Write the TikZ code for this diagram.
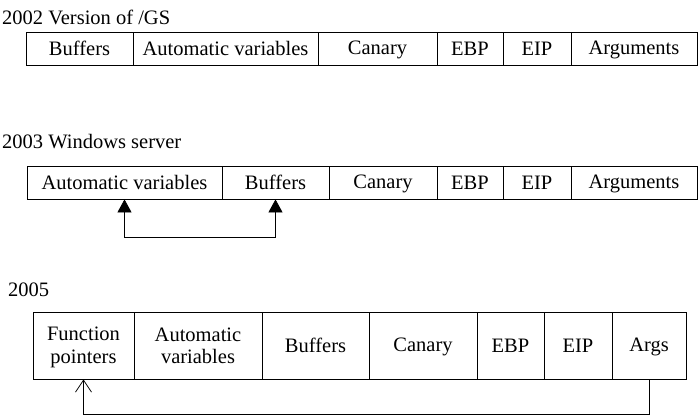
\documentclass[tikz,border=0pt]{standalone}
\usepackage{fontspec}
\setmainfont{Liberation Serif}
\usetikzlibrary{arrows.meta}
\newcommand\cellstrut{\rule[-3pt]{0pt}{20pt}}

\begin{document}
\begin{tikzpicture}[x=1pt, y=-1pt,
    cell/.style={draw, line width=0.8pt, inner sep=0pt, align=center,
        font=\fontsize{20.5}{22.5}\selectfont},
    rowlabel/.style={anchor=west, inner sep=0pt, font=\fontsize{20.5}{22.5}\selectfont}]
    \useasboundingbox (0,0) rectangle (700,415);

    % 2002 version of /GS
    \node[rowlabel] (lab1) at (2,17) {2002 Version of /GS};
    \foreach \name/\l/\r/\txt in {a/26/133/{Buffers}, b/133/318/{Automatic variables},
        c/318/437/{Canary}, d/437/503/{EBP}, e/503/571/{EIP}, f/571/697/{Arguments}} {
        \node[cell, minimum width={(\r-\l)*1pt}, minimum height=33pt]
            (r1\name) at ({(\l+\r)/2}, 48.5) {\cellstrut\txt};
    }

    % 2003 Windows server
    \node[rowlabel] (lab2) at (2,142) {2003 Windows server};
    \foreach \name/\l/\r/\txt in {a/27/222/{Automatic variables}, b/222/329/{Buffers},
        c/329/437/{Canary}, d/437/503/{EBP}, e/503/571/{EIP}, f/571/697/{Arguments}} {
        \node[cell, minimum width={(\r-\l)*1pt}, minimum height=33pt]
            (r2\name) at ({(\l+\r)/2}, 182.5) {\cellstrut\txt};
    }
    % buffers swapped with the variables
    \draw[line width=0.8pt, {Triangle[width=14pt,length=13pt]}-{Triangle[width=14pt,length=13pt]}]
        (r2a.south) -- ++(0,38) -| (r2b.south);

    % 2005
    \node[rowlabel] (lab3) at (8,290) {2005};
    \foreach \name/\l/\r/\txt in {a/33/134/{Function\\\cellstrut pointers}, b/134/262/{Automatic\\\cellstrut variables},
        c/262/369/{Buffers}, d/369/477/{Canary}, e/477/544/{EBP}, f/544/612/{EIP}, g/612/686/{Args}} {
        \node[cell, minimum width={(\r-\l)*1pt}, minimum height=67pt]
            (r3\name) at ({(\l+\r)/2}, 345.5) {\cellstrut\txt};
    }
    \draw[line width=0.8pt, -{Straight Barb[width=16pt,length=12pt]}]
        (r3g.south) -- ++(0,35) -| (r3a.south);
\end{tikzpicture}
\end{document}
